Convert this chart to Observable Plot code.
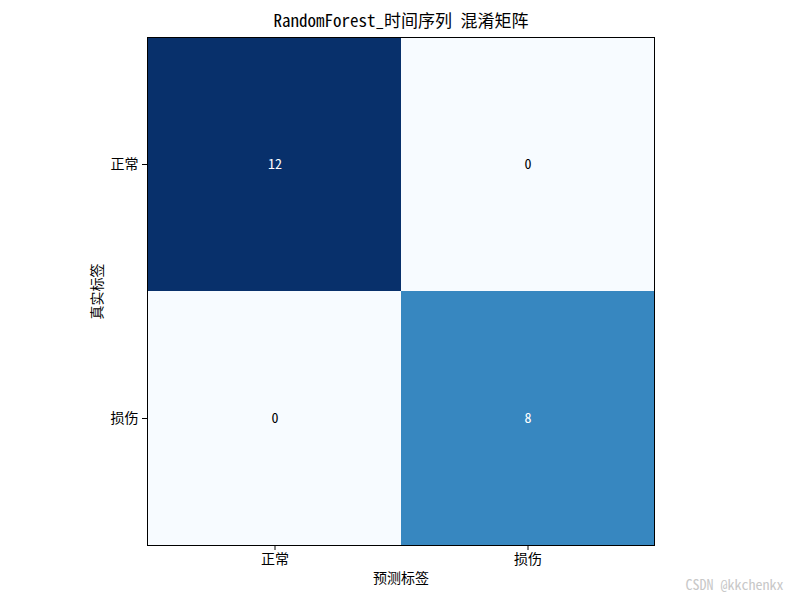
<!DOCTYPE html>
<html>
<head>
<meta charset="utf-8">
<script src="https://cdn.jsdelivr.net/npm/d3@7"></script>
<script src="https://cdn.jsdelivr.net/npm/@observablehq/plot@0.6"></script>
<style>
  body { margin: 0; background: #fff; }
  #chart { width: 800px; height: 600px; }
</style>
</head>
<body>
<div id="chart"></div>
<script>
const classLabels = ["正常", "损伤"];
const trueLabels = ["正常", "正常", "损伤", "损伤"];
const predLabels = ["正常", "损伤", "正常", "损伤"];
const counts = [12, 0, 0, 8];
const titleText = "RandomForest_时间序列 混淆矩阵";
const xLabel = "预测标签";
const yLabel = "真实标签";
const watermark = "CSDN @kkchenkx";

const cells = counts.map((c, i) => ({ t: trueLabels[i], p: predLabels[i], count: c }));
const maxCount = d3.max(counts);
const font = '"Noto Sans Mono CJK SC", "Noto Sans CJK SC", "DejaVu Sans Mono", monospace';

const chart = Plot.plot({
  width: 800,
  height: 600,
  marginLeft: 147,
  marginRight: 146,
  marginTop: 37,
  marginBottom: 55,
  style: { fontFamily: font, fontSize: "14px", color: "#000", background: "#fff" },
  x: { type: "band", domain: classLabels, padding: 0, label: null },
  y: { type: "band", domain: classLabels, padding: 0, label: null },
  color: { type: "linear", scheme: "blues", domain: [0, maxCount] },
  marks: [
    Plot.cell(cells, { x: "p", y: "t", fill: "count" }),
    Plot.text(cells, {
      x: "p", y: "t", text: d => String(d.count), fontSize: 14,
      fill: d => d.count > maxCount / 2 ? "white" : "black"
    }),
    Plot.frame({ stroke: "black", strokeWidth: 1 }),
    Plot.axisX({ anchor: "bottom", tickSize: 5, tickPadding: 4, fontSize: 14, label: null }),
    Plot.axisY({ anchor: "left", tickSize: 5, tickPadding: 4, fontSize: 14, label: null }),
    Plot.text([titleText], { frameAnchor: "top", dy: -16, fontSize: 17, lineAnchor: "middle" }),
    Plot.text([xLabel], { frameAnchor: "bottom", dy: 33, fontSize: 14, lineAnchor: "middle" }),
    Plot.text([yLabel], { frameAnchor: "left", dx: -50, rotate: -90, textAnchor: "middle", fontSize: 14, lineAnchor: "middle" }),
    Plot.text([watermark], { frameAnchor: "bottom-right", dx: 129, dy: 40, textAnchor: "end", fontSize: 14, fill: "#c8c8c8", lineAnchor: "middle" })
  ]
});
document.getElementById("chart").appendChild(chart);
</script>
</body>
</html>
